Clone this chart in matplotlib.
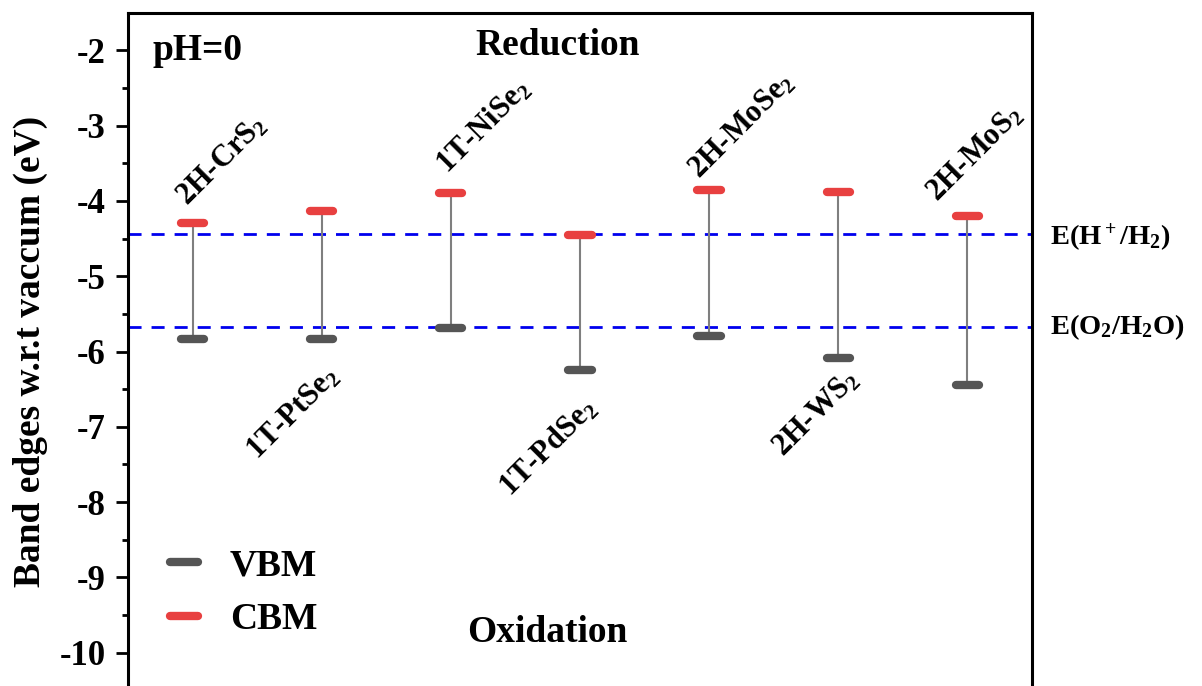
import matplotlib
matplotlib.use("Agg")
import matplotlib.pyplot as plt
from matplotlib.lines import Line2D

plt.rcParams['font.family'] = ['Liberation Serif', 'DejaVu Serif']
plt.rcParams['font.weight'] = 'bold'
plt.rcParams['mathtext.fontset'] = 'custom'
plt.rcParams['mathtext.rm'] = 'Liberation Serif:bold'
plt.rcParams['mathtext.it'] = 'Liberation Serif:bold'
plt.rcParams['mathtext.bf'] = 'Liberation Serif:bold'
plt.rcParams['lines.scale_dashes'] = False

# ---- data ----
materials = ["2H-CrS$_2$", "1T-PtSe$_2$", "1T-NiSe$_2$", "1T-PdSe$_2$",
             "2H-MoSe$_2$", "2H-WS$_2$", "2H-MoS$_2$"]
cbm = [-4.30, -4.13, -3.90, -4.45, -3.85, -3.88, -4.20]
vbm = [-5.84, -5.84, -5.69, -6.25, -5.80, -6.08, -6.44]
label_above = [True, False, True, False, True, False, True]
e_h = -4.44
e_o = -5.67
yticks = [-2, -3, -4, -5, -6, -7, -8, -9, -10]

# label anchor offsets (layout only)
label_dx = [0.00, 0.02, 0.01, 0.01, -0.04, 0.05, -0.19]
label_dy = [0.16, -0.29, 0.19, -0.31, 0.07, -0.10, 0.12]

fig = plt.figure(figsize=(12.02, 6.86), dpi=100)
ax = fig.add_axes([0.1065, -0.0064, 0.752, 0.988])

xs = list(range(1, len(materials) + 1))
ax.vlines(xs, vbm, cbm, color='#7f7f7f', lw=1.5, zorder=2)
half = 0.09
vc = ax.hlines(vbm, [x - half for x in xs], [x + half for x in xs],
               color='#555555', lw=6, zorder=3)
vc.set_capstyle('round')
cc = ax.hlines(cbm, [x - half for x in xs], [x + half for x in xs],
               color='#e84040', lw=6, zorder=3)
cc.set_capstyle('round')

for lvl in (e_h, e_o):
    ax.axhline(lvl, color='#0000ee', lw=2, dashes=(9.4, 7.2), zorder=1)

for x, name, c, v, up, dx, dy in zip(xs, materials, cbm, vbm, label_above,
                                     label_dx, label_dy):
    if up:
        ax.text(x + dx, c + dy, name, rotation=45, rotation_mode='anchor',
                ha='left', va='bottom', fontsize=22, fontweight='bold')
    else:
        ax.text(x + dx, v + dy, name, rotation=45, rotation_mode='anchor',
                ha='right', va='top', fontsize=22, fontweight='bold')

ax.text(1.02, (e_h - (-10.5)) / 9.0 - 0.005, "E(H$^+$/H$_2$)", transform=ax.transAxes,
        ha='left', va='center', fontsize=20.5, fontweight='bold', clip_on=False)
ax.text(1.02, (e_o - (-10.5)) / 9.0, "E(O$_2$/H$_2$O)", transform=ax.transAxes,
        ha='left', va='center', fontsize=20.5, fontweight='bold', clip_on=False)

ax.text(0.027, 0.944, "pH=0", transform=ax.transAxes, ha='left', va='center',
        fontsize=27, fontweight='bold')
ax.text(0.475, 0.952, "Reduction", transform=ax.transAxes, ha='center', va='center',
        fontsize=27, fontweight='bold')
ax.text(0.464, 0.085, "Oxidation", transform=ax.transAxes, ha='center', va='center',
        fontsize=27, fontweight='bold')

handles = [Line2D([], [], color='#555555', lw=6, solid_capstyle='round'),
           Line2D([], [], color='#e84040', lw=6, solid_capstyle='round')]
ax.legend(handles, ["VBM", "CBM"], loc='center left', bbox_to_anchor=(0.009, 0.144),
          frameon=False, handlelength=0.75, handletextpad=0.85,
          labelspacing=0.5, prop={'weight': 'bold', 'size': 27})

ax.set_xlim(0.5, 7.5)
ax.set_ylim(-10.5, -1.5)
ax.set_xticks([])
ax.set_yticks(yticks)
ax.set_yticklabels([str(t) for t in yticks])
ax.set_yticks([-2.5, -3.5, -4.5, -5.5, -6.5, -7.5, -8.5, -9.5], minor=True)
ax.tick_params(axis='y', which='major', direction='out', length=9, width=2,
               labelsize=25, pad=7)
ax.tick_params(axis='y', which='minor', direction='out', length=4.5, width=2)
for lab in ax.get_yticklabels():
    lab.set_fontweight('bold')
for s in ax.spines.values():
    s.set_linewidth(2.2)
ax.spines['bottom'].set_visible(False)

ax.set_ylabel("Band edges w.r.t vaccum (eV)", fontsize=27, fontweight='bold')
ax.yaxis.set_label_coords(-0.088, 0.5)

fig.savefig("out.png", dpi=100)
